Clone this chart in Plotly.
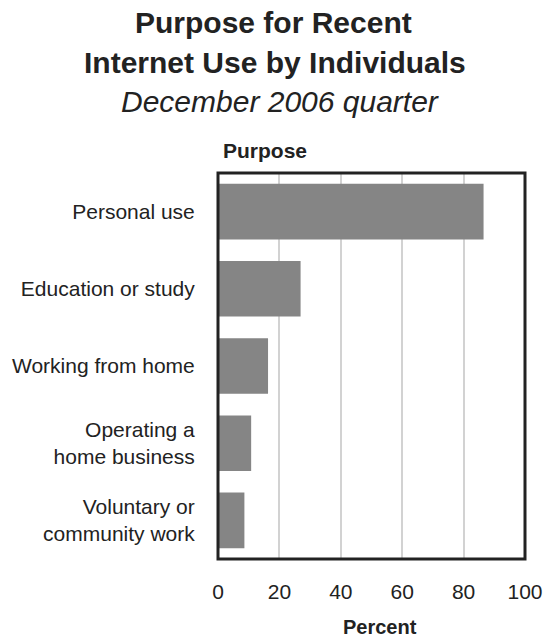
import plotly.graph_objects as go

# Survey results: share of internet users citing each purpose
purposes = [
    "Personal use",
    "Education or study",
    "Working from home",
    "Operating a<br>home business",
    "Voluntary or<br>community work",
]
percent = [86.5, 26.9, 16.3, 10.8, 8.6]
x_ticks = [0, 20, 40, 60, 80, 100]

FONT = "Liberation Sans, Arial, Helvetica, sans-serif"
INK = "#222222"

fig = go.Figure(
    go.Bar(
        x=percent,
        y=purposes,
        orientation="h",
        marker=dict(color="#858585", line=dict(width=0)),
        hoverinfo="x+y",
    )
)

# plot-area geometry in pixels, used to place the free-standing labels
W, H = 555, 639
ML, MR, MT, MB = 216, 22, 173, 80
plot_h = H - MT - MB
plot_w = W - ML - MR


def py(pix):
    """Convert a page y pixel to paper coordinates."""
    return (H - MB - pix) / plot_h


def px(pix):
    """Convert a page x pixel to paper coordinates."""
    return (pix - ML) / plot_w


fig.update_layout(
    width=W,
    height=H,
    margin=dict(l=ML, r=MR, t=MT, b=MB, pad=0),
    paper_bgcolor="white",
    plot_bgcolor="white",
    bargap=0.28,
    showlegend=False,
    font=dict(family=FONT, color=INK, size=21),
    xaxis=dict(
        range=[0, 100],
        tickvals=x_ticks,
        ticktext=[str(v) for v in x_ticks],
        showgrid=True,
        gridcolor="#d2d2d2",
        gridwidth=2,
        zeroline=False,
        showline=False,
        ticks="outside",
        ticklen=14,
        tickcolor="rgba(0,0,0,0)",
        tickfont=dict(size=21, color=INK),
        fixedrange=True,
    ),
    yaxis=dict(
        categoryorder="array",
        categoryarray=purposes,
        autorange="reversed",
        showgrid=False,
        zeroline=False,
        showline=False,
        ticks="outside",
        ticklen=18,
        tickcolor="rgba(0,0,0,0)",
        tickfont=dict(size=21, color=INK),
        fixedrange=True,
    ),
    shapes=[
        dict(
            type="rect",
            xref="paper",
            yref="paper",
            x0=0,
            x1=1,
            y0=0,
            y1=1,
            line=dict(color=INK, width=3),
            fillcolor="rgba(0,0,0,0)",
            layer="above",
        )
    ],
    annotations=[
        dict(text="<b>Purpose for Recent</b>", x=px(273), y=py(22.5),
             xref="paper", yref="paper", showarrow=False,
             xanchor="center", yanchor="middle", font=dict(size=30, color=INK)),
        dict(text="<b>Internet Use by Individuals</b>", x=px(275), y=py(62.5),
             xref="paper", yref="paper", showarrow=False,
             xanchor="center", yanchor="middle", font=dict(size=30, color=INK)),
        dict(text="<i>December 2006 quarter</i>", x=px(280), y=py(101),
             xref="paper", yref="paper", showarrow=False,
             xanchor="center", yanchor="middle", font=dict(size=30, color=INK)),
        dict(text="<b>Purpose</b>", x=px(219), y=py(150),
             xref="paper", yref="paper", showarrow=False,
             xanchor="left", yanchor="middle", font=dict(size=21, color=INK)),
        dict(text="<b>Percent</b>", x=px(383), y=py(627),
             xref="paper", yref="paper", showarrow=False,
             xanchor="center", yanchor="middle", font=dict(size=20, color=INK)),
    ],
)

fig.write_html("out.html")
